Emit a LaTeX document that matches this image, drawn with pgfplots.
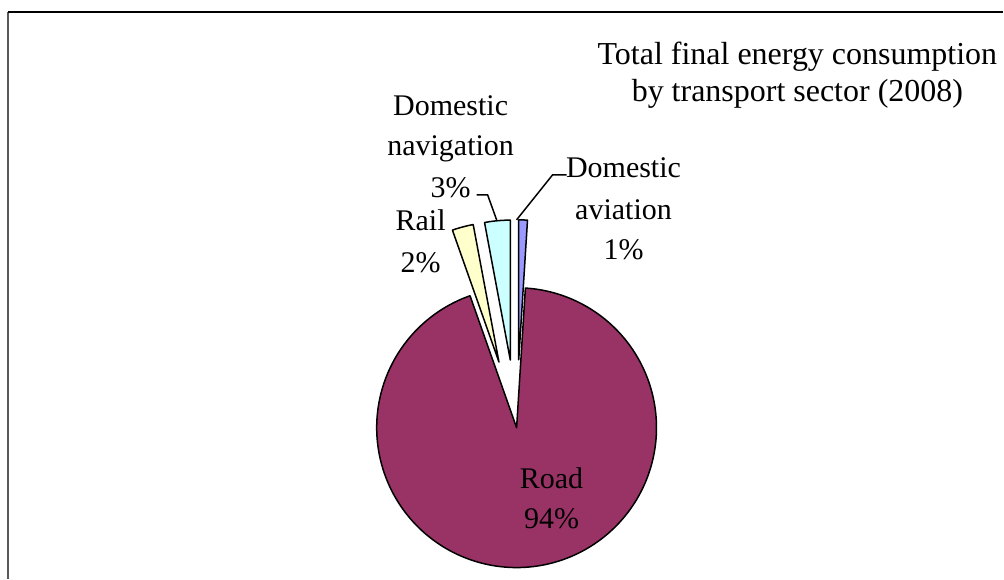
\documentclass[border=0pt]{standalone}
\usepackage{pgfplots}
\pgfplotsset{compat=1.18}
\usepackage{pgfplotstable}
\usepackage{fontspec}
\setmainfont{Liberation Serif}
\definecolor{road}{HTML}{993366}
\definecolor{rail}{HTML}{FFFFCC}
\definecolor{nav}{HTML}{CCFFFF}
\definecolor{avi}{HTML}{9999FF}

\pgfplotstableread{
name value explode
Road 93.6 0
Rail 2.45 68
Navigation 2.95 68
Aviation 1.0 68
}\datatable

\pgfplotstablegetelem{0}{value}\of\datatable \let\vRoad\pgfplotsretval
\pgfplotstablegetelem{1}{value}\of\datatable \let\vRail\pgfplotsretval
\pgfplotstablegetelem{2}{value}\of\datatable \let\vNav\pgfplotsretval
\pgfplotstablegetelem{3}{value}\of\datatable \let\vAvi\pgfplotsretval
\pgfplotstablegetelem{0}{explode}\of\datatable \let\eRoad\pgfplotsretval
\pgfplotstablegetelem{1}{explode}\of\datatable \let\eRail\pgfplotsretval
\pgfplotstablegetelem{2}{explode}\of\datatable \let\eNav\pgfplotsretval
\pgfplotstablegetelem{3}{explode}\of\datatable \let\eAvi\pgfplotsretval

% #1 end angle (counter-clockwise end), #2 value in %, #3 explode (px), #4 colour
\newcommand{\pieslice}[4]{%
  \pgfmathsetmacro{\aEnd}{#1}%
  \pgfmathsetmacro{\aStart}{#1-3.6*#2}%
  \pgfmathsetmacro{\aMid}{#1-1.8*#2}%
  \pgfmathsetmacro{\ox}{517+#3*cos(\aMid)}%
  \pgfmathsetmacro{\oy}{428-#3*sin(\aMid)}%
  \pgfmathsetmacro{\ns}{max(20,round(3*#2*3.6))}%
  \edef\doslice{\noexpand\addplot[draw=black, line width=0.75pt, line join=round, fill=#4,
     domain=\aStart:\aEnd, samples=\ns]
     ({\ox+140*cos(x)},{\oy-140*sin(x)}) -- (axis cs:\ox,\oy) -- cycle;}%
  \doslice
}

\begin{document}
\begin{tikzpicture}
\begin{axis}[
  scale only axis, width=502pt, height=289.5pt,
  xmin=0, xmax=1004, ymin=0, ymax=579, y dir=reverse,
  hide axis, clip=false,
]
% frame
\draw[line width=1pt, color=black!65] (axis cs:8,12) -- (axis cs:8,579);
\draw[line width=0.8pt, color=black] (axis cs:8,12) -- (axis cs:1004,12);

\pgfmathsetmacro{\aA}{86.4}
\pgfmathsetmacro{\aB}{\aA-3.6*\vRoad}
\pgfmathsetmacro{\aC}{\aB-3.6*\vRail}
\pgfmathsetmacro{\aD}{\aC-3.6*\vNav}
\pieslice{\aA}{\vRoad}{\eRoad}{road}
\pieslice{\aB}{\vRail}{\eRail}{rail}
\pieslice{\aC}{\vNav}{\eNav}{nav}
\pieslice{\aD}{\vAvi}{\eAvi}{avi}

% labels
\tikzset{lbl/.style={anchor=base, inner sep=0pt, font=\fontsize{15}{18}\selectfont}}
\node[lbl] at (axis cs:552,489) {Road};
\node[lbl] at (axis cs:552,529) {94\%};
\node[lbl] at (axis cs:421,231) {Rail};
\node[lbl] at (axis cs:421,273) {2\%};
\node[lbl] at (axis cs:451,116) {Domestic};
\node[lbl] at (axis cs:451,156) {navigation};
\node[lbl] at (axis cs:451,198) {3\%};
\node[lbl] at (axis cs:624,178) {Domestic};
\node[lbl] at (axis cs:624,220) {aviation};
\node[lbl] at (axis cs:624,260) {1\%};
% leader lines
\draw[line width=0.75pt] (axis cs:477,195) -- (axis cs:488,195) -- (axis cs:497,220);
\draw[line width=0.75pt] (axis cs:567,175) -- (axis cs:553,175) -- (axis cs:517,220);
% title
\node[anchor=base, inner sep=0pt, font=\fontsize{16}{19}\selectfont] at (axis cs:798,65) {Total final energy consumption};
\node[anchor=base, inner sep=0pt, font=\fontsize{16}{19}\selectfont] at (axis cs:798,102) {by transport sector (2008)};
\end{axis}
\path (current axis.south west) rectangle (current axis.north east);
\end{tikzpicture}
\end{document}
